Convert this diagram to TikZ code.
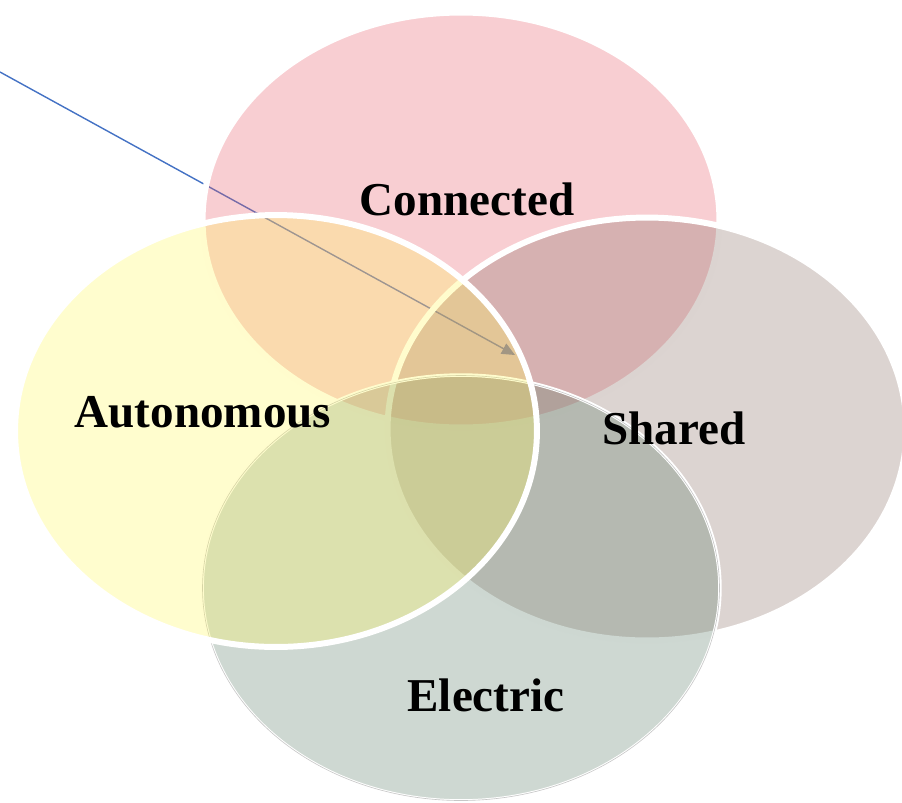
\documentclass[tikz,border=0pt]{standalone}
\usepackage{fontspec}
\setmainfont{Liberation Serif}
\usepackage{tikz}
\usetikzlibrary{arrows.meta}
\usetikzlibrary{shapes.geometric}
\definecolor{conncol}{RGB}{232,92,105}
\definecolor{sharecol}{RGB}{138,112,102}
\definecolor{autocol}{RGB}{255,248,92}
\definecolor{eleccol}{RGB}{92,125,105}
\definecolor{pointcol}{RGB}{68,114,196}
\tikzset{
    venn/.style={
        ellipse,
        draw=white,
        line width=3.4pt,
        fill opacity=0.3,
        inner sep=0pt
    },
    vennlabel/.style={
        font=\fontsize{26.8}{32}\selectfont\bfseries,
        text=black
    },
    pointer/.style={
        draw=pointcol,
        line width=0.8pt,
        -{Triangle[length=7.5pt, width=6.5pt]}
    }
}

\begin{document}
\begin{tikzpicture}[x=0.02cm, y=-0.02cm]
  \useasboundingbox (0,0) rectangle (902,802);

  % Pointer (drawn below the sets)
  \coordinate (start) at (0,72);
  \coordinate (tip) at (515,355);
  \draw[pointer] (start) -- (tip);

  % Sets
  \node[venn, fill=conncol, minimum width=10.34cm, minimum height=8.3cm] (conn) at (461,220) {};
  \node[venn, fill=sharecol, minimum width=10.38cm, minimum height=8.46cm] (share) at (647,429) {};
  \node[venn, fill=eleccol, line width=2pt, minimum width=10.36cm, minimum height=8.52cm] (elec) at (461,588) {};
  \draw[black!22, line width=0.35pt] (elec.center) ellipse [x radius=258.5, y radius=212.5];
  \node[venn, fill=autocol, minimum width=10.44cm, minimum height=8.64cm] (auto) at (276,431) {};

  % Labels
  \node[vennlabel] (lconn) at (467,199) {Connected};
  \node[vennlabel] (lauto) at (203,412) {Autonomous};
  \node[vennlabel] (lshare) at (674,428) {Shared};
  \node[vennlabel] (lelec) at (486,695) {Electric};
\end{tikzpicture}
\end{document}
